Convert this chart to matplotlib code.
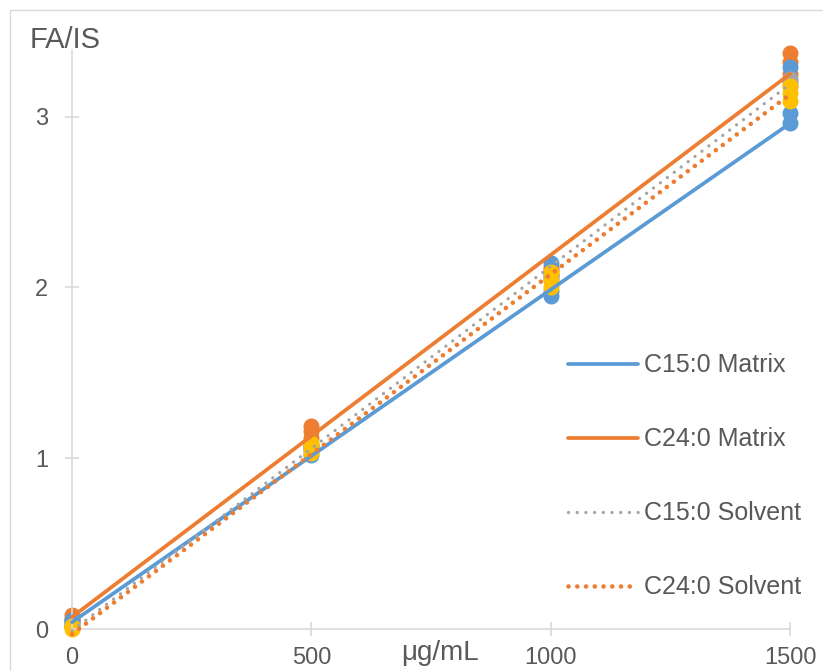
import matplotlib.pyplot as plt
import matplotlib.patches as patches

# replicate measurements (µg/mL vs FA/IS ratio)
conc = [0, 0, 0, 500, 500, 500, 1000, 1000, 1000, 1500, 1500, 1500]
c15_matrix = [0.04, 0.05, 0.03, 1.02, 1.05, 1.07, 2.14, 1.98, 1.95, 3.29, 3.02, 2.96]
c24_matrix = [0.08, 0.06, 0.05, 1.19, 1.16, 1.12, 2.12, 2.10, 2.08, 3.37, 3.32, 3.25]
c15_solvent = [0.01, 0.02, 0.01, 1.07, 1.06, 1.08, 2.06, 2.05, 2.07, 3.20, 3.22, 3.18]
c24_solvent = [0.00, 0.01, 0.02, 1.03, 1.06, 1.09, 2.00, 2.04, 2.09, 3.09, 3.14, 3.18]

# trendline end points
fit_x = [0, 1500]
fit_c15_matrix = [0.04, 2.96]
fit_c24_matrix = [0.07, 3.25]
fit_c15_solvent = [-0.01, 3.19]
fit_c24_solvent = [-0.03, 3.13]

blue = "#5B9BD5"
orange = "#ED7D31"
gray = "#A5A5A5"
yellow = "#FFC000"
txt = "#595959"

plt.rcParams["font.family"] = ["Liberation Sans", "DejaVu Sans"]

fig = plt.figure(figsize=(8.23, 6.71), dpi=100)
fig.patches.append(patches.Rectangle((10 / 823, -0.1), 1.2, 1 - 10 / 671 + 0.1,
                                     transform=fig.transFigure, fill=False,
                                     edgecolor="#D9D9D9", linewidth=1))
ax = fig.add_axes([72 / 823, 1 - 629 / 671, (790 - 72) / 823, (629 - 50) / 671])

ms = 10.5
ax.plot(conc, c24_matrix, "o", color=orange, ms=ms, zorder=2, clip_on=False)
ax.plot(conc, c15_matrix, "o", color=blue, ms=ms, zorder=2, clip_on=False)
ax.plot(conc, c15_solvent, "o", color=gray, ms=ms, zorder=2, clip_on=False)
ax.plot(conc, c24_solvent, "o", color=yellow, ms=ms, zorder=2, clip_on=False)

ax.plot(fit_x, fit_c15_matrix, color=blue, lw=2.7, label="C15:0 Matrix", zorder=3,
        solid_capstyle="round", clip_on=False)
ax.plot(fit_x, fit_c24_matrix, color=orange, lw=2.7, label="C24:0 Matrix", zorder=3,
        solid_capstyle="round", clip_on=False)
ax.plot(fit_x, fit_c15_solvent, color=gray, lw=2.4, linestyle=(0, (0.01, 2.6)),
        dash_capstyle="round", label="C15:0 Solvent", zorder=3, clip_on=False)
ax.plot(fit_x, fit_c24_solvent, color=orange, lw=3.3, linestyle=(0, (0.01, 1.9)),
        dash_capstyle="round", label="C24:0 Solvent", zorder=3, clip_on=False)

ax.set_xlim(0, 1500)
ax.set_ylim(0, 3.39)
ax.set_xticks([0, 500, 1000, 1500])
ax.set_yticks([0, 1, 2, 3])
for s in ["top", "right"]:
    ax.spines[s].set_visible(False)
for s in ["left", "bottom"]:
    ax.spines[s].set_color("#D9D9D9")
    ax.spines[s].set_linewidth(1.2)
ax.tick_params(direction="inout", length=10, width=1.2, color="#D9D9D9",
               labelsize=17, labelcolor=txt)
ax.tick_params(axis="y", pad=12)
ax.tick_params(axis="x", pad=8)

fig.text(30 / 823, 1 - 40 / 671, "FA/IS", fontsize=21, color=txt, va="center", ha="left")
fig.text(440 / 823, 1 - 653 / 671, "μg/mL", fontsize=20, color=txt, va="center", ha="center")

leg = ax.legend(loc="upper left", bbox_to_anchor=(545 / 823, 1 - 331 / 671),
                bbox_transform=fig.transFigure, frameon=False, fontsize=18,
                labelcolor=txt, handlelength=2.8, handletextpad=0.25,
                labelspacing=2.0)

fig.savefig("out.png", dpi=100)
